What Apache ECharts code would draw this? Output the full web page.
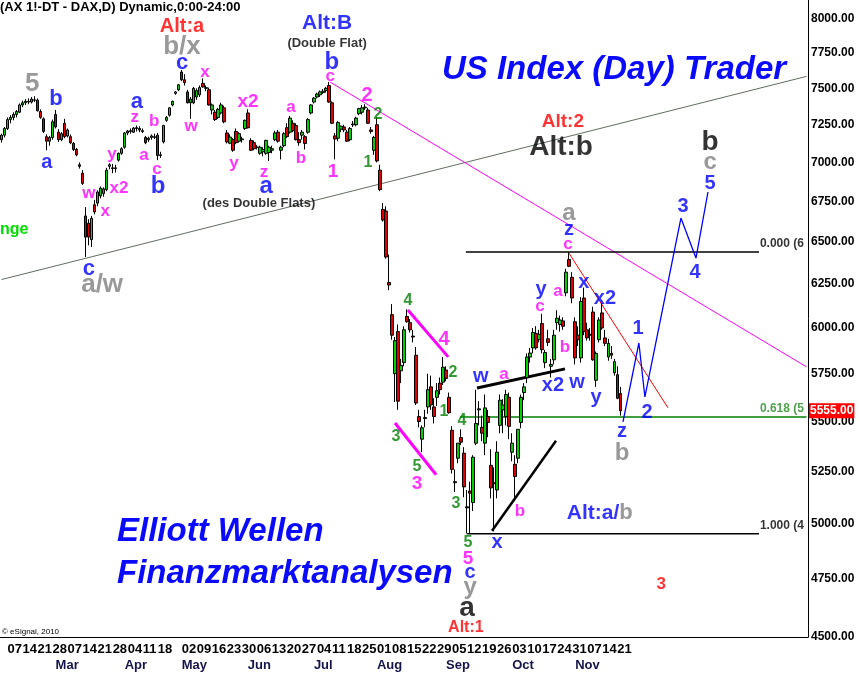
<!DOCTYPE html>
<html><head><meta charset="utf-8">
<script src="https://cdn.jsdelivr.net/npm/echarts@6/dist/echarts.min.js"></script>
<style>html,body{margin:0;padding:0;background:#fff}#c{width:860px;height:674px}</style>
</head><body><div id="c"></div>
<script>
const FONT = '"Liberation Sans", Arial, sans-serif';
const startYear = 2011, startMonth = 1, startDay = 3;
const holidays = ['2011-04-22', '2011-04-25'];
const tradingDays = 207;
const totalSlots = 269;
const monthNames = ['Jan','Feb','Mar','Apr','May','Jun','Jul','Aug','Sep','Oct','Nov','Dec'];

const opens = [
7150,7180,7225,7285,7300,7320,7335,7385,7400,7410,
7405,7420,7418,7340,7290,7170,7140,7165,7320,7200,
7150,7260,7175,7170,7125,7085,6985,6930,6660,6615,
6515,6730,6740,6785,6800,6825,6975,6965,6960,7015,
7060,7100,7195,7205,7200,7225,7225,7210,7165,7150,
7165,7170,7180,7045,7135,7280,7315,7385,7465,7490,
7615,7560,7475,7400,7400,7440,7455,7535,7500,7490,
7350,7335,7300,7330,7365,7195,7127,7150,7205,7140,
7150,7225,7330,7145,7130,7100,7060,7070,7060,7065,
7080,7150,7200,7080,7110,7230,7200,7260,7245,7150,
7180,7170,7200,7330,7405,7440,7455,7470,7485,7520,
7400,7175,7160,7220,7235,7200,7150,7250,7250,7325,
7335,7365,7350,7215,7080,7250,6950,6700,6690,6260,
6075,5750,5980,5766,5810,6065,6030,5955,5850,5525,
5410,5520,5575,5680,5575,5625,5700,5705,5770,5625,
5455,5200,5315,5418,5340,5080,5155,5100,5390,5560,
5470,5390,5525,5280,5195,5160,5480,5560,5525,5625,
5345,5285,5315,5495,5650,5730,5840,5890,5970,5935,
6025,5810,5940,5790,5825,6030,6020,6040,6200,6395,
6290,6035,5960,5835,6170,5990,5960,6090,5715,5935,
6085,5945,5840,5860,5755,5745,5645];
const highs = [
7190,7235,7300,7315,7335,7350,7395,7415,7425,7430,
7440,7445,7430,7355,7300,7185,7175,7285,7350,7220,
7200,7290,7225,7185,7135,7095,7000,6950,6715,6640,
6660,6760,6820,6845,6840,6965,6995,6990,6985,7065,
7100,7200,7215,7225,7235,7245,7240,7225,7175,7170,
7185,7190,7195,7070,7250,7310,7370,7415,7480,7530,
7630,7600,7490,7440,7510,7500,7520,7570,7520,7505,
7395,7350,7365,7400,7380,7215,7185,7160,7225,7200,
7170,7285,7355,7160,7145,7115,7110,7100,7150,7110,
7110,7210,7215,7110,7200,7260,7310,7280,7260,7200,
7215,7180,7295,7390,7440,7470,7485,7495,7510,7545,
7410,7195,7275,7245,7250,7215,7235,7275,7305,7365,
7385,7390,7365,7235,7175,7300,6985,6740,6720,6425,
6135,5950,6020,5830,6010,6105,6050,5990,5895,5560,
5480,5560,5750,5740,5620,5700,5730,5840,5790,5650,
5475,5260,5390,5460,5370,5160,5200,5330,5665,5605,
5530,5640,5560,5360,5270,5400,5640,5615,5665,5650,
5440,5330,5460,5640,5700,5860,5890,6000,6010,5990,
6080,5880,5990,5830,5990,6100,6070,6060,6340,6440,
6320,6060,6010,6175,6230,6030,6000,6120,5870,6060,
6140,5990,5940,5900,5830,5790,5680];
const lows = [
7130,7165,7215,7260,7280,7300,7330,7370,7385,7390,
7395,7405,7340,7290,7195,7080,7110,7150,7225,7135,
7140,7160,7165,7120,7075,7040,6960,6855,6410,6480,
6470,6670,6720,6770,6780,6815,6955,6930,6935,7005,
7050,7090,7180,7190,7195,7205,7200,7195,7120,7135,
7150,7155,7015,7030,7125,7270,7305,7375,7455,7480,
7550,7520,7395,7290,7390,7420,7440,7505,7480,7380,
7320,7275,7290,7320,7260,7125,7120,7070,7120,7130,
7130,7215,7225,7075,7080,7085,7050,7040,7050,7010,
7060,7140,7130,7020,7100,7160,7190,7200,7145,7110,
7150,7085,7190,7320,7395,7430,7440,7460,7470,7400,
7255,7020,7140,7200,7200,7135,7140,7235,7240,7315,
7320,7350,7255,7190,7050,7000,6815,6625,6400,6215,
5935,5600,5560,5700,5790,6030,5975,5920,5585,5470,
5345,5470,5540,5560,5490,5580,5640,5690,5710,5540,
5240,5150,5290,5380,5125,4955,4958,5060,5380,5480,
5400,5330,5420,5120,4965,5120,5440,5440,5480,5410,
5300,5125,5290,5465,5610,5700,5810,5860,5880,5920,
5860,5780,5900,5730,5800,5990,5980,5990,6180,6350,
6140,5800,5900,5810,5960,5930,5930,5820,5680,5920,
5990,5900,5820,5830,5740,5615,5530];
const closes = [
7180,7225,7285,7300,7320,7340,7385,7400,7410,7405,
7425,7418,7345,7300,7205,7140,7165,7270,7235,7150,
7190,7170,7215,7130,7085,7050,6975,6865,6530,6530,
6645,6685,6810,6835,6830,6950,6985,6960,6965,7060,
7090,7195,7208,7210,7228,7230,7215,7205,7130,7160,
7175,7165,7045,7050,7245,7300,7365,7410,7475,7525,
7560,7540,7400,7425,7500,7485,7505,7510,7505,7385,
7385,7285,7355,7385,7270,7135,7167,7080,7130,7190,
7155,7280,7230,7080,7090,7100,7100,7085,7145,7100,
7090,7195,7140,7100,7190,7170,7295,7210,7150,7130,
7200,7125,7285,7385,7432,7460,7475,7480,7500,7405,
7260,7155,7265,7240,7215,7140,7225,7255,7295,7360,
7365,7370,7260,7205,7165,7010,6825,6635,6410,6245,
5960,5930,5605,5795,5990,6035,5990,5950,5595,5500,
5468,5515,5665,5585,5525,5660,5665,5785,5725,5545,
5260,5195,5390,5395,5175,5075,5145,5320,5490,5565,
5440,5570,5495,5170,5190,5345,5610,5585,5640,5475,
5390,5225,5460,5625,5680,5840,5862,5975,5890,5965,
5880,5865,5920,5800,5960,6055,6045,6010,6320,6355,
6170,5835,5935,6150,5980,5945,5965,5825,5860,6045,
6000,5915,5915,5850,5815,5620,5555];

const yTickValues = [4500,4750,5000,5250,5500,5750,6000,6250,6500,6750,7000,7250,7500,7750,8000];
const lastPrice = 5555;

// trend / wave lines: [slot index, price]
const trendGrey = [[0,6277],[268,7584]];
const trendMagenta = [[109.4,7544],[268,5787]];
const fibTop = [[154.6,6440],[252.2,6440]];
const fibMid = [[152.6,5523],[268,5523]];
const fibBottom = [[155,4954],[252.2,4954]];
const redLine = [[188.9,6434],[221.9,5570]];
const wLine = [[158.3,5674],[187.6,5776]];
const bLine = [[163.3,4968],[184.6,5402]];
const magUpper = [[135.3,6101],[148.7,5841]];
const magLower = [[131,5492],[144.7,5234]];
const projection = [[206.9,5498],[212.2,5917],[214.2,5627],[226.2,6647],[231.2,6404],[235.2,6810]];

// annotations: [slot index, price, text, fontSize]
const greyLabels = [[10.2,7530,'5',26],[60.1,7794,'b/x',26],[33.5,6245,'a/w',26],[188.9,6678,'a',24],[206.6,5341,'b',24],[235.9,7003,'c',24],[156,4711,'y',24]];
const blueLabels = [[18.1,7425,'b',22],[15.1,7003,'a',20],[29.1,6339,'c',22],[45.1,7404,'a',22],[52.1,6848,'b',24],[60.1,7678,'c',22],[110,7686,'b',24],[88.1,6848,'a',24],[159.6,5733,'w',20],[165,4913,'x',20],[179.6,6222,'y',20],[188.9,6574,'z',20],[193.9,6257,'x',20],[200.9,6170,'x2',20],[183.6,5690,'x2',20],[191.6,5701,'w',20],[197.9,5622,'y',20],[206.6,5447,'z',20],[211.9,5995,'1',20],[214.9,5544,'2',20],[226.9,6716,'3',20],[230.9,6316,'4',20],[235.9,6867,'5',20],[156,4777,'c',20],[108.4,7970,'Alt:B',21]];
const magentaLabels = [[44.4,7302,'z',17],[50.8,7275,'b',17],[63.1,7241,'w',17],[67.7,7615,'x',17],[82.1,7404,'x2',19],[96.4,7370,'a',17],[109.4,7586,'c',17],[121.7,7453,'2',20],[36.8,7055,'y',17],[39.1,6835,'x2',17],[29.1,6804,'w',17],[34.5,6691,'x',17],[47.4,7048,'a',17],[51.8,6957,'c',17],[77.4,6996,'y',17],[87.4,6938,'z',17],[99.7,7029,'b',17],[110.4,6938,'1',19],[147.3,5939,'4',20],[138.3,5190,'3',19],[155.3,4840,'5',19],[179.3,6124,'c',17],[185.3,6210,'a',17],[187.6,5895,'b',17],[167.3,5749,'a',17],[172.6,5061,'b',17],[188.6,6488,'c',17]];
const greenLabels = [[125.3,7322,'2',16],[122,6996,'1',16],[135.3,6153,'4',16],[150.3,5754,'2',16],[147.3,5550,'1',16],[153.3,5503,'4',16],[131.3,5422,'3',16],[138.3,5273,'5',16],[151.3,5094,'3',16],[155.3,4913,'5',16]];
const redLabels = [[60.1,7941,'Alt:a',20],[186.9,7268,'Alt:2',19],[154.6,4539,'Alt:1',16],[219.6,4725,'3',17]];
const blackLabels = [[186.3,7101,'Alt:b',28],[235.9,7134,'b',28],[155,4624,'a',28],[108.4,7823,'(Double Flat)',13],[85.7,6741,'(des Double Flats)',13]];
const fibLabels = [[252.5,6488,'0.000 (6','#000'],[252.5,5565,'0.618 (5','#228b22'],[252.5,4991,'1.000 (4','#000']];
const altAB = [199.2,5051];

function buildDates() {
  const out = [];
  const d = new Date(Date.UTC(startYear, startMonth, startDay));
  while (out.length < totalSlots) {
    const dow = d.getUTCDay();
    const s = d.toISOString().slice(0, 10);
    if (dow !== 0 && dow !== 6 && holidays.indexOf(s) < 0) out.push(s);
    d.setUTCDate(d.getUTCDate() + 1);
  }
  return out;
}
const dates = buildDates();
const isMonday = s => new Date(s + 'T00:00:00Z').getUTCDay() === 1;

const candleData = opens.map((o, i) => [o, closes[i], lows[i], highs[i]]);

function lineSeries(data, color, width) {
  return {type: 'line', xAxisIndex: 2, data: data, symbol: 'none', silent: true, z: 3,
    lineStyle: {color: color, width: width}};
}
function labelSeries(arr, color, extra) {
  return {type: 'scatter', xAxisIndex: 2, symbolSize: 1, silent: true, z: 6,
    itemStyle: {color: 'rgba(0,0,0,0)'},
    data: arr.map(a => ({value: [a[0], a[1]], label: Object.assign({show: true, position: 'inside',
      formatter: a[2], fontSize: a[3], fontWeight: 'bold', color: color, fontFamily: FONT}, extra || {})}))};
}

const markLineData = yTickValues.map(v => ({yAxis: v, label: {formatter: v.toFixed(2)}}));
markLineData.push({yAxis: lastPrice, label: {formatter: lastPrice.toFixed(2), color: '#fff',
  backgroundColor: '#ff0000', padding: [2, 1, 1, 1], distance: 1}});

const chart = echarts.init(document.getElementById('c'));
chart.setOption({
  animation: false,
  backgroundColor: '#fff',
  grid: {left: 0, right: 52, top: 0, bottom: 37},
  xAxis: [
    {type: 'category', data: dates, boundaryGap: true,
     axisLine: {onZero: false, lineStyle: {color: '#000', width: 1}}, axisTick: {show: false}, splitLine: {show: false},
     axisLabel: {interval: (i, v) => i < tradingDays && isMonday(v), formatter: v => v.slice(8),
       align: 'left', margin: 6, fontSize: 13, fontWeight: 'bold', color: '#000', fontFamily: FONT}},
    {type: 'category', data: dates, position: 'bottom', offset: 16,
     axisLine: {show: false}, axisTick: {show: false}, splitLine: {show: false},
     axisLabel: {interval: (i, v) => i > 0 && i < tradingDays && dates[i - 1].slice(5, 7) !== v.slice(5, 7),
       formatter: v => monthNames[+v.slice(5, 7) - 1],
       align: 'left', margin: 6, fontSize: 13, fontWeight: 'bold', color: '#14144b', fontFamily: FONT}},
    {type: 'value', min: -0.5, max: totalSlots - 0.5, show: false}
  ],
  yAxis: {type: 'log', logBase: 10, min: 4500, max: 8143, position: 'right',
    axisLine: {show: true, onZero: false, lineStyle: {color: '#000'}}, axisTick: {show: false},
    axisLabel: {show: false}, splitLine: {show: false}},
  graphic: [
    {type: 'text', x: 0, y: 7, style: {text: '(AX 1!-DT - DAX,D) Dynamic,0:00-24:00', font: 'bold 13px ' + FONT, fill: '#000', verticalAlign: 'middle', textVerticalAlign: 'middle'}},
    {type: 'text', x: 614, y: 70, z: 10, style: {text: 'US Index (Day) Trader', font: 'italic bold 33px ' + FONT, fill: '#0a0aff', align: 'center', textAlign: 'center', verticalAlign: 'middle', textVerticalAlign: 'middle'}},
    {type: 'text', x: 117, y: 532, z: 10, style: {text: 'Elliott Wellen', font: 'italic bold 33px ' + FONT, fill: '#0a0aff', verticalAlign: 'middle', textVerticalAlign: 'middle'}},
    {type: 'text', x: 117, y: 574, z: 10, style: {text: 'Finanzmarktanalysen', font: 'italic bold 33px ' + FONT, fill: '#0a0aff', verticalAlign: 'middle', textVerticalAlign: 'middle'}},
    {type: 'text', x: 0, y: 230, style: {text: 'nge', font: 'bold 16px ' + FONT, fill: '#00dd00', verticalAlign: 'middle', textVerticalAlign: 'middle'}},
    {type: 'text', x: 2, y: 632, style: {text: '\u00a9 eSignal, 2010', font: '8px ' + FONT, fill: '#000', verticalAlign: 'middle', textVerticalAlign: 'middle'}}
  ],
  series: [
    lineSeries(trendGrey, '#5f6e5f', 1),
    lineSeries(trendMagenta, '#ff00ff', 1),
    lineSeries(fibTop, '#000', 1.5),
    lineSeries(fibMid, '#008000', 1.5),
    lineSeries(fibBottom, '#000', 1.5),
    {type: 'candlestick', xAxisIndex: 0, data: candleData, barWidth: 3, z: 4,
     itemStyle: {color: '#00d000', color0: '#e00000', borderColor: '#000', borderColor0: '#000', borderWidth: 1},
     markLine: {silent: true, symbol: 'none', animation: false,
       lineStyle: {width: 1, color: 'rgba(0,0,0,0)', type: 'solid'},
       label: {show: true, position: 'end', distance: 3, fontSize: 12, fontWeight: 'bold', color: '#000', fontFamily: FONT},
       data: markLineData}},
    lineSeries(redLine, '#ff0000', 1),
    lineSeries(wLine, '#000', 3),
    lineSeries(bLine, '#000', 2.5),
    lineSeries(magUpper, '#ff00ff', 3),
    lineSeries(magLower, '#ff00ff', 3),
    lineSeries(projection, '#0000ff', 1.3),
    labelSeries(greyLabels, '#808080'),
    labelSeries(blueLabels, '#0000ff'),
    labelSeries(magentaLabels, '#ff00ff'),
    labelSeries(greenLabels, '#008000', {textShadowColor: '#e0c000', textShadowBlur: 0, textShadowOffsetX: -1, textShadowOffsetY: -1}),
    labelSeries(redLabels, '#ff0000'),
    labelSeries(blackLabels, '#000'),
    {type: 'scatter', xAxisIndex: 2, symbolSize: 1, silent: true, z: 6, itemStyle: {color: 'rgba(0,0,0,0)'},
     data: fibLabels.map(a => ({value: [a[0], a[1]], label: {show: true, position: 'inside', align: 'left',
       formatter: a[2], fontSize: 12, fontWeight: 'bold', color: a[3], fontFamily: FONT}}))},
    {type: 'scatter', xAxisIndex: 2, symbolSize: 1, silent: true, z: 6, itemStyle: {color: 'rgba(0,0,0,0)'},
     data: [{value: altAB, label: {show: true, position: 'inside', formatter: '{a|Alt:a/}{b|b}',
       rich: {a: {color: '#0000ff', fontSize: 21, fontWeight: 'bold', fontFamily: FONT},
              b: {color: '#808080', fontSize: 22, fontWeight: 'bold', fontFamily: FONT}}}}]}
  ]
});
</script>
</body></html>
